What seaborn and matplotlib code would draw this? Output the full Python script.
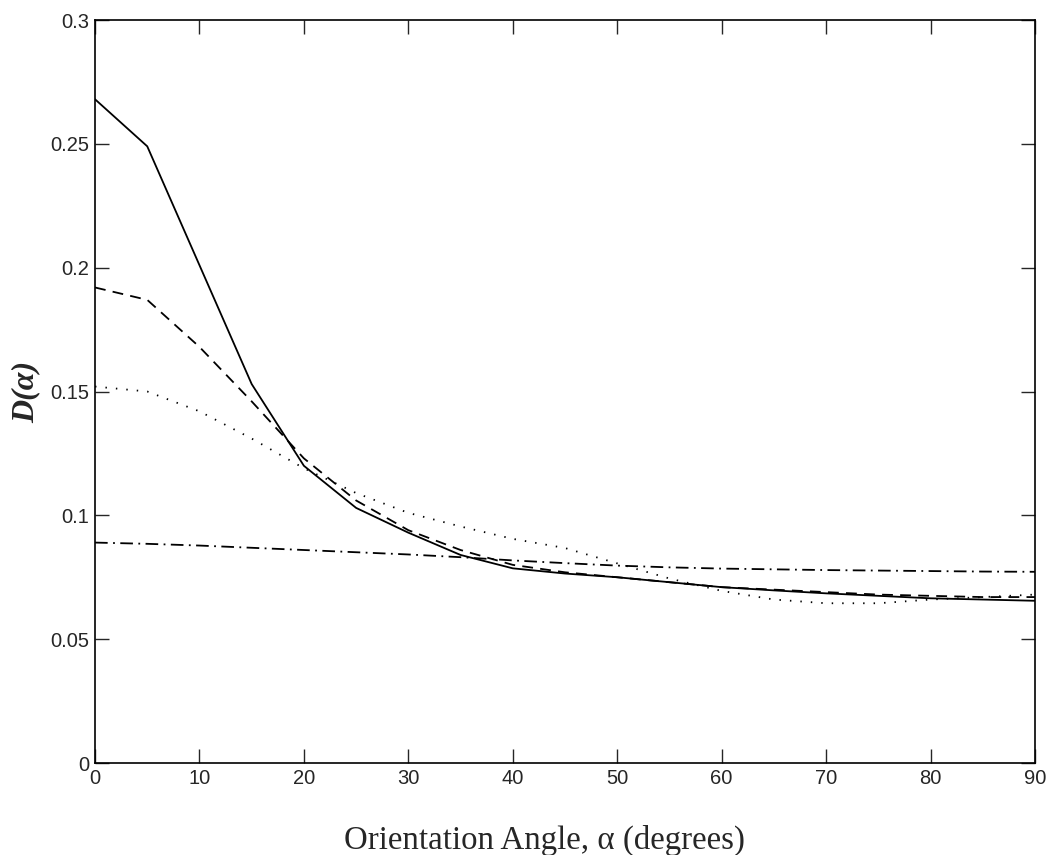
import matplotlib
matplotlib.use("Agg")
import matplotlib.pyplot as plt
import seaborn as sns
import pandas as pd

angles = [0, 5, 10, 15, 20, 25, 30, 35, 40, 45, 50, 55, 60, 65, 70, 75, 80, 85, 90]
solid_vals = [0.268, 0.249, 0.201, 0.153, 0.120, 0.103, 0.093, 0.084, 0.0786, 0.0765, 0.075, 0.073, 0.071, 0.0697, 0.0685, 0.0675, 0.0665, 0.066, 0.0655]
dashed_vals = [0.192, 0.187, 0.168, 0.146, 0.123, 0.106, 0.094, 0.086, 0.080, 0.077, 0.075, 0.073, 0.071, 0.070, 0.069, 0.068, 0.0675, 0.067, 0.067]
dotted_vals = [0.152, 0.150, 0.142, 0.131, 0.119, 0.109, 0.101, 0.0955, 0.0905, 0.0868, 0.0806, 0.0745, 0.0695, 0.066, 0.0645, 0.0645, 0.066, 0.067, 0.068]
dashdot_vals = [0.089, 0.0885, 0.0878, 0.0869, 0.0860, 0.0851, 0.0842, 0.0831, 0.0818, 0.0807, 0.0797, 0.0790, 0.0785, 0.0782, 0.0779, 0.0777, 0.0775, 0.0773, 0.0772]

x_ticks = [0, 10, 20, 30, 40, 50, 60, 70, 80, 90]
y_ticks = [0, 0.05, 0.1, 0.15, 0.2, 0.25, 0.3]
y_tick_labels = ["0", "0.05", "0.1", "0.15", "0.2", "0.25", "0.3"]

sns.set_style("ticks")
plt.rcParams["font.family"] = ["Liberation Sans", "DejaVu Sans"]
plt.rcParams["xtick.direction"] = "in"
plt.rcParams["ytick.direction"] = "in"

fig = plt.figure(figsize=(10.5, 8.55), dpi=100)
ax = fig.add_axes([0.0905, 0.1076, 0.8952, 0.869])

series = [
    (solid_vals, None),
    (dashed_vals, (6, 4)),
    (dotted_vals, (0.8, 5)),
    (dashdot_vals, (7, 3, 1, 3)),
]
for vals, dashes in series:
    df = pd.DataFrame({"angle": angles, "D": vals})
    sns.lineplot(data=df, x="angle", y="D", ax=ax, color="black", linewidth=1.3)
    l = ax.lines[-1]
    if dashes is None:
        l.set_linestyle("-")
    else:
        l.set_dashes(dashes)

ax.set_xlim(0, 90)
ax.set_ylim(0, 0.3)
ax.set_xticks(x_ticks)
ax.set_xticklabels([str(t) for t in x_ticks])
ax.set_yticks(y_ticks)
ax.set_yticklabels(y_tick_labels)
ax.tick_params(axis="both", which="both", direction="in", length=10, width=1.0,
               labelsize=14.5, top=True, right=True, pad=4)
for s in ax.spines.values():
    s.set_visible(True)
    s.set_linewidth(1.2)
    s.set_color("black")

ax.set_xlabel("Orientation Angle, α (degrees)", fontsize=23.7,
              family=["Liberation Serif", "DejaVu Serif"])
ax.xaxis.set_label_coords(0.478, -0.083)
ax.set_ylabel("D(α)", fontsize=23,
              family=["Liberation Serif", "DejaVu Serif"], fontweight="bold",
              fontstyle="italic", labelpad=7.5)

fig.savefig("out.png", dpi=100, facecolor="white")
